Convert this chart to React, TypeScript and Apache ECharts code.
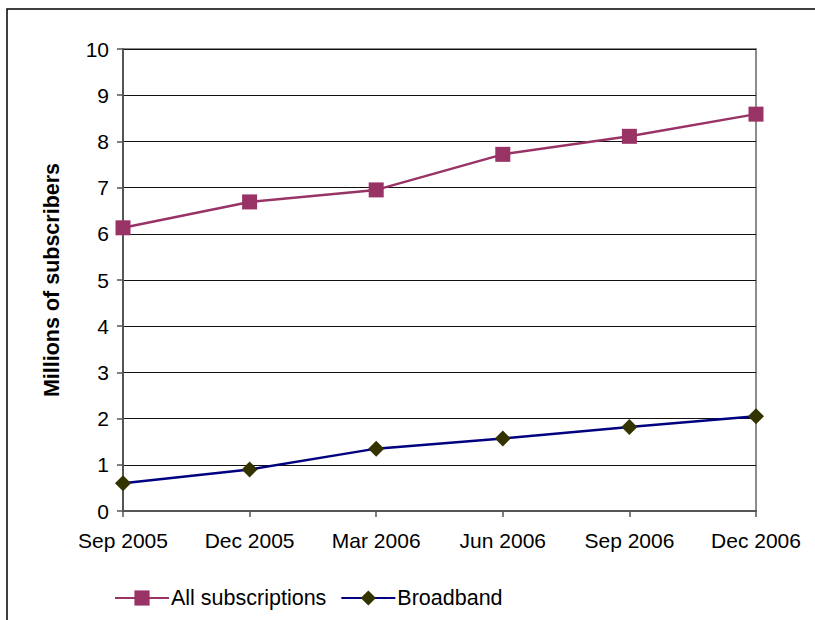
import React, { useEffect, useRef } from "react";
import * as echarts from "echarts";

// Quarterly subscriber counts, in millions
const categories = ["Sep 2005", "Dec 2005", "Mar 2006", "Jun 2006", "Sep 2006", "Dec 2006"];
const allSubscriptions = [6.13, 6.69, 6.95, 7.72, 8.11, 8.59];
const broadband = [0.6, 0.9, 1.35, 1.57, 1.82, 2.05];
const seriesNames = ["All subscriptions", "Broadband"];

const FONT = "'Liberation Sans', Arial, sans-serif";

export default function App() {
  const ref = useRef<HTMLDivElement | null>(null);

  useEffect(() => {
    if (!ref.current) return;
    const chart = echarts.init(ref.current, null, { renderer: "svg" });
    chart.setOption({
      animation: false,
      backgroundColor: "#ffffff",
      textStyle: { fontFamily: FONT, color: "#000" },
      graphic: [
        {
          type: "rect",
          shape: { x: 7, y: 9, width: 900, height: 700 },
          style: { fill: "none", stroke: "#000", lineWidth: 1.5 },
          silent: true,
        },
      ],
      grid: {
        left: 123,
        top: 49,
        right: 59,
        bottom: 109,
        show: true,
        borderColor: "#8c8c8c",
        borderWidth: 2,
        containLabel: false,
      },
      legend: {
        data: seriesNames,
        left: 109,
        top: 582,
        itemWidth: 54,
        itemHeight: 19,
        itemGap: 14,
        textStyle: { fontFamily: FONT, fontSize: 21.5, color: "#000", padding: [0, 0, 0, -3] },
      },
      xAxis: {
        type: "category",
        data: categories,
        boundaryGap: false,
        axisLine: { lineStyle: { color: "#555", width: 2 } },
        axisTick: { show: true, length: 6, lineStyle: { color: "#555", width: 1.5 } },
        axisLabel: { fontFamily: FONT, fontSize: 21, color: "#000", margin: 19 },
        splitLine: { show: false },
      },
      yAxis: {
        type: "value",
        min: 0,
        max: 10,
        interval: 1,
        name: "Millions of subscribers",
        nameLocation: "middle",
        nameRotate: 90,
        nameGap: 60,
        nameTextStyle: { fontFamily: FONT, fontSize: 21.5, fontWeight: "bold", color: "#000" },
        axisLine: { show: true, lineStyle: { color: "#555", width: 2 } },
        axisTick: { show: true, length: 6, lineStyle: { color: "#555", width: 1.5 } },
        axisLabel: { fontFamily: FONT, fontSize: 21, color: "#000", margin: 14 },
        splitLine: { show: true, lineStyle: { color: "#111", width: 1 } },
      },
      series: [
        {
          name: seriesNames[0],
          type: "line",
          data: allSubscriptions,
          symbol: "rect",
          symbolSize: 15,
          showAllSymbol: true,
          lineStyle: { color: "#993366", width: 2.5 },
          itemStyle: { color: "#993366", borderWidth: 0 },
          z: 3,
        },
        {
          name: seriesNames[1],
          type: "line",
          data: broadband,
          symbol: "diamond",
          symbolSize: 16,
          showAllSymbol: true,
          lineStyle: { color: "#000080", width: 2.5 },
          itemStyle: { color: "#333300", borderWidth: 0 },
          z: 3,
        },
      ],
    });
    return () => chart.dispose();
  }, []);

  return (
    <div
      ref={ref}
      style={{ position: "absolute", left: 0, top: 0, width: 815, height: 620 }}
    />
  );
}
